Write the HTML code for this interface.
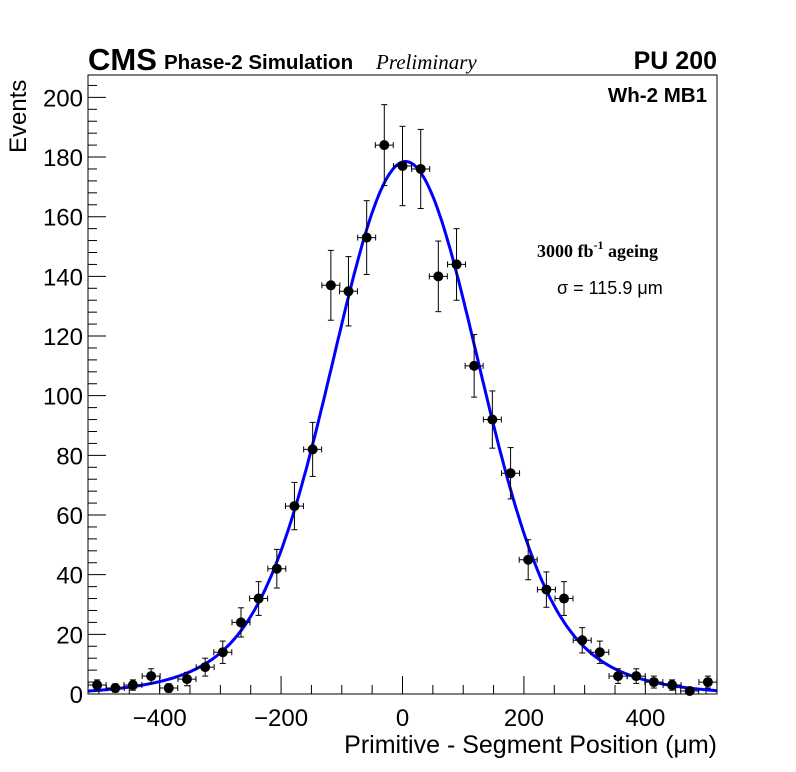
<!DOCTYPE html>
<html><head><meta charset="utf-8"><style>
body{margin:0;background:#fff;}
svg{display:block;font-family:"Liberation Sans",sans-serif;}
</style></head><body>
<svg id="c" width="796" height="772">
<rect x="0" y="0" width="796" height="772" fill="#fff"/>
<g id="ticks"></g>
<g id="marks"></g>
<rect x="88" y="75" width="629" height="619" fill="none" stroke="#000" stroke-width="1"/>
<text x="88" y="70" font-size="31" font-weight="bold">CMS</text>
<text x="164" y="69" font-size="20.5" font-weight="bold">Phase-2 Simulation</text>
<text x="376" y="69" font-size="21" font-style="italic" font-family="Liberation Serif, serif">Preliminary</text>
<text x="717" y="69" font-size="25" font-weight="bold" text-anchor="end">PU 200</text>
<text x="707" y="102" font-size="20.5" font-weight="bold" text-anchor="end">Wh-2 MB1</text>
<text x="537" y="257" font-size="18" font-weight="bold" font-family="Liberation Serif, serif">3000 fb<tspan font-size="12" dy="-8">-1</tspan><tspan dy="8"> ageing</tspan></text>
<text x="557" y="294" font-size="18">σ = 115.9 μm</text>
<text x="717" y="753" font-size="25" text-anchor="end">Primitive - Segment Position (μm)</text>
<text transform="translate(26,153) rotate(-90)" font-size="24">Events</text>
</svg>
<script>
const binCenters=[-503,-473,-444,-414,-385,-355,-325,-296,-266,-237,-207,-178,-148,-118,-89,-59,-30,0,30,59,89,118,148,178,207,237,266,296,325,355,385,414,444,473,503];
const counts=[3,2,3,6,2,5,9,14,24,32,42,63,82,137,135,153,184,177,176,140,144,110,92,74,45,35,32,18,14,6,6,4,3,1,4];
const xTicks=[-400,-200,0,200,400];
const yTicks=[0,20,40,60,80,100,120,140,160,180,200];
const fitParams=[148.5,115,30,200,5];
const X0=88,X1=717,Y0=694,Y1=75,XMIN=-518,XMAX=518,YMIN=0,YMAX=207.5;
const halfBin=14.8;
function sx(v){return X0+(v-XMIN)/(XMAX-XMIN)*(X1-X0);}
function sy(v){return Y0-(v-YMIN)/(YMAX-YMIN)*(Y0-Y1);}
const NS="http://www.w3.org/2000/svg";
function mk(tag,attrs,parent){const e=document.createElementNS(NS,tag);for(const k in attrs)e.setAttribute(k,attrs[k]);parent.appendChild(e);return e;}
const T=document.getElementById('ticks');
for(let v=-500;v<=500;v+=50){
  const major=v%200===0;
  const t=mk('line',{x1:sx(v),x2:sx(v),y1:Y0,y2:Y0-(major?18:9),stroke:'#000','stroke-width':1},T);
  
  
}
xTicks.forEach(v=>{
  const t=mk('text',{x:sx(v),y:726,'font-size':24,'text-anchor':'middle'},T);
  t.textContent=(v<0?'\u2212'+(-v):String(v));
  
  
});
for(let v=0;v<=206;v+=4){
  const major=v%20===0;
  const t=mk('line',{x1:X0,x2:X0+(major?18:9),y1:sy(v),y2:sy(v),stroke:'#000','stroke-width':1},T);
  
  
}
yTicks.forEach(v=>{
  const t=mk('text',{x:83,y:sy(v)+9,'font-size':24,'text-anchor':'end'},T);
  t.textContent=String(v);
  
  
});
const M=document.getElementById('marks');
function fit(x){const [a1,s1,a2,s2,m]=fitParams;const d=x-m;return a1*Math.exp(-d*d/(2*s1*s1))+a2*Math.exp(-d*d/(2*s2*s2));}
let d='';
for(let x=XMIN;x<=XMAX;x+=2){d+=(d?'L':'M')+sx(x).toFixed(1)+','+sy(fit(x)).toFixed(1);}
const c=mk('path',{d:d,fill:'none',stroke:'#0000ff','stroke-width':3},M);


binCenters.forEach((b,i)=>{
  const n=counts[i],e=Math.sqrt(n);
  const g=mk('g',{},M);
  
  
  const cx=sx(b),cy=sy(n);
  mk('line',{x1:sx(b-halfBin),x2:sx(b+halfBin),y1:cy,y2:cy,stroke:'#000','stroke-width':1},g);
  mk('line',{x1:cx,x2:cx,y1:sy(n-e),y2:sy(Math.min(n+e,YMAX)),stroke:'#000','stroke-width':1},g);
  [sx(b-halfBin),sx(b+halfBin)].forEach(xx=>mk('line',{x1:xx,x2:xx,y1:cy-3,y2:cy+3,stroke:'#000'},g));
  [sy(n-e),sy(n+e)].forEach(yy=>{if(n+e<=YMAX||yy===sy(n-e))mk('line',{x1:cx-3,x2:cx+3,y1:yy,y2:yy,stroke:'#000'},g);});
  mk('circle',{cx:cx,cy:cy,r:5,fill:'#000'},g);
});
</script>
</body></html>
